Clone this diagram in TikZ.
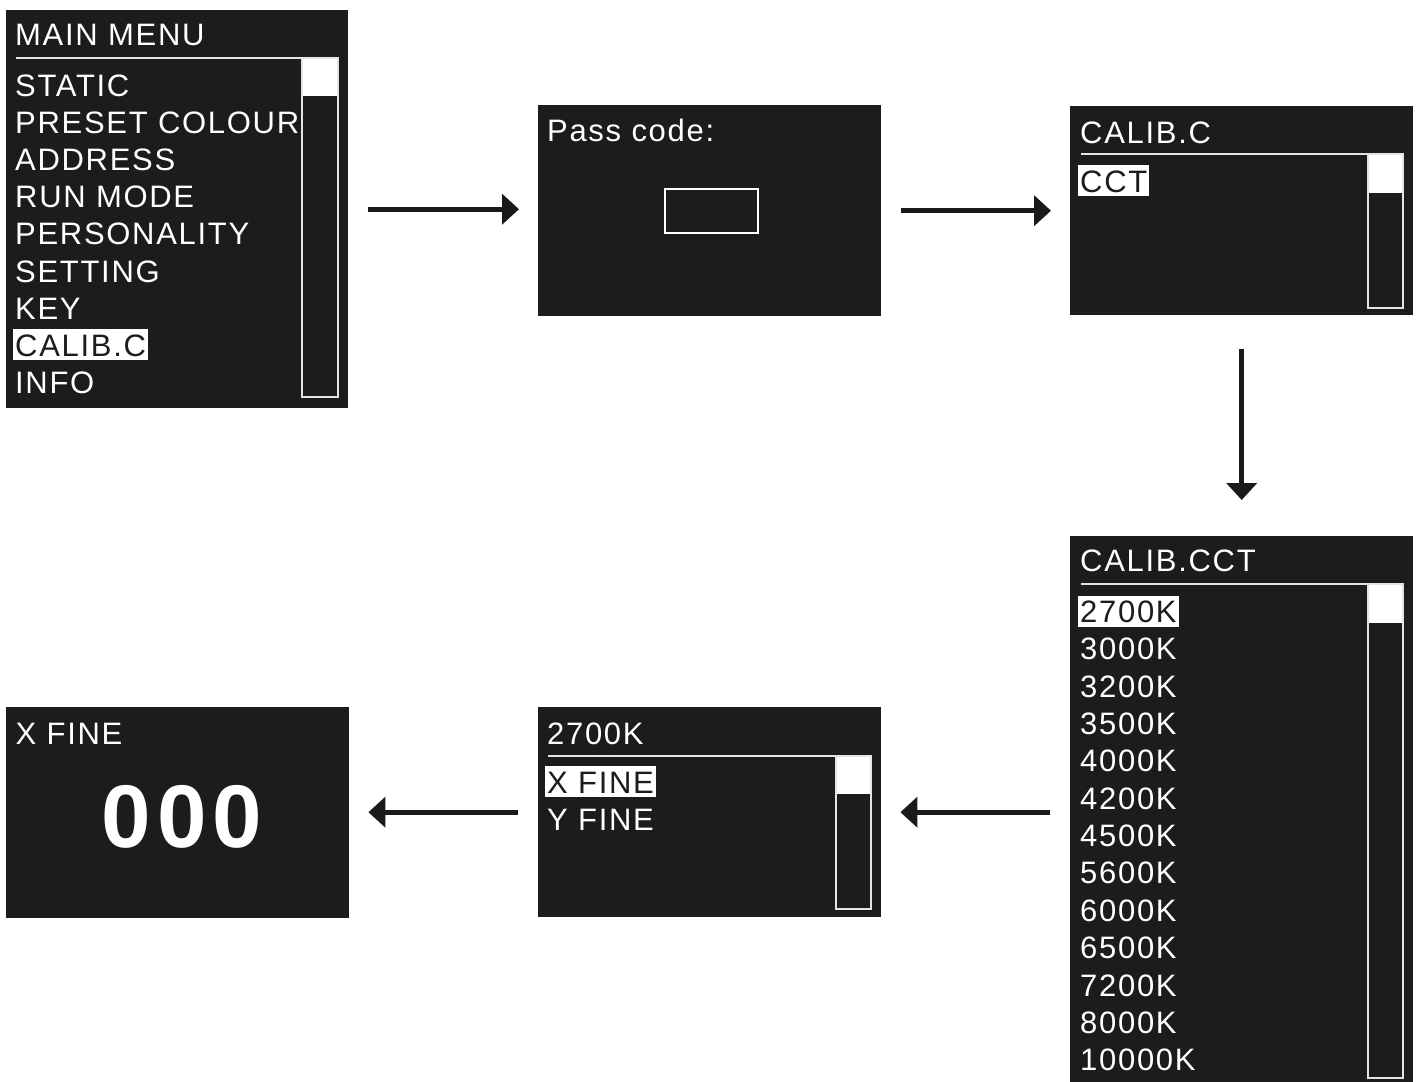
\documentclass[tikz,border=0pt]{standalone}
\usepackage{fontspec}
\setmainfont{Liberation Sans}[LetterSpace=5.5]
\newfontfamily\numfont{Liberation Sans}[LetterSpace=7]
\usetikzlibrary{arrows.meta,calc,positioning}
\definecolor{lcd}{RGB}{28,28,28}
\definecolor{ink}{RGB}{26,26,26}
\definecolor{rule}{RGB}{228,228,228}

\begin{document}
\begin{tikzpicture}[x=1pt,y=-1pt]
  \tikzset{
    screen/.style={fill=lcd,inner sep=0pt,anchor=north west},
    txt/.style={text=white,font=\fontsize{31}{37}\selectfont,anchor=base west,
                inner xsep=2pt,inner ysep=0pt,text height=27pt,text depth=4pt},
    sel/.style={txt,fill=white,text=lcd},
    bar/.style={draw=rule,line width=1.6pt},
    flow/.style={draw=ink,line width=5pt,-{Triangle[length=17pt,width=30pt]},
                 shorten <=20pt,shorten >=19pt}
  }
  \useasboundingbox (0,0) rectangle (1417,1082);

  % main menu
  \node[screen,minimum width=342pt,minimum height=398pt] (menu) at (6,10) {};
  \node[txt] (menutitle) at (13,45) {MAIN MENU};
  \draw[bar] (16,58) -- (338,58);
  \fill[white] (302,58) rectangle (338,96);
  \draw[bar] (302,58) rectangle (338,397);
  \foreach \t/\s [count=\i from 0] in {STATIC/txt,PRESET COLOUR/txt,ADDRESS/txt,
      RUN MODE/txt,PERSONALITY/txt,SETTING/txt,KEY/txt,CALIB.C/sel,INFO/txt}
    \node[\s] (m\i) at (13,{96+37.2*\i}) {\t};

  % pass code
  \node[screen,minimum width=343pt,minimum height=211pt] (pass) at (538,105) {};
  \node[txt] (passlbl) at (545,141) {Pass code:};
  \node[draw=white,line width=1.6pt,minimum width=93pt,minimum height=44pt,
        inner sep=0pt] (code) at ($(pass.center)+(2,0)$) {};

  % calib.c
  \node[screen,minimum width=343pt,minimum height=209pt] (calib) at (1070,106) {};
  \node[txt] (calibtitle) at (1078,143) {CALIB.C};
  \draw[bar] (1081,154) -- (1403,154);
  \fill[white] (1368,154) rectangle (1403,193);
  \draw[bar] (1368,154) rectangle (1403,308);
  \node[sel] (cctitem) at (1078,192) {CCT};

  % calib.cct
  \node[screen,minimum width=343pt,minimum height=546pt] (cct) at (1070,536) {};
  \node[txt] (ccttitle) at (1078,571) {CALIB.CCT};
  \draw[bar] (1081,584) -- (1403,584);
  \fill[white] (1368,584) rectangle (1403,623);
  \draw[bar] (1368,584) rectangle (1403,1078);
  \foreach \t/\s [count=\i from 0] in {2700K/sel,3000K/txt,3200K/txt,3500K/txt,
      4000K/txt,4200K/txt,4500K/txt,5600K/txt,6000K/txt,6500K/txt,7200K/txt,
      8000K/txt,10000K/txt}
    \node[\s] (k\i) at (1078,{622.5+37.35*\i}) {\t};

  % 2700K
  \node[screen,minimum width=343pt,minimum height=210pt] (fine) at (538,707) {};
  \node[txt] (finetitle) at (545,744) {2700K};
  \draw[bar] (548,756) -- (871,756);
  \fill[white] (836,756) rectangle (871,794);
  \draw[bar] (836,756) rectangle (871,909);
  \node[sel] (xfine) at (545,793) {X FINE};
  \node[txt] (yfine) at (545,830) {Y FINE};

  % x fine value
  \node[screen,minimum width=343pt,minimum height=211pt] (xval) at (6,707) {};
  \node[txt] (xvaltitle) at (13.5,744) {X FINE};
  \node[text=white,inner sep=0pt,anchor=base,
        font=\fontsize{89}{100}\numfont\bfseries] (num) at (182,847) {000};

  \draw[flow] (menu.east) -- (menu.east -| pass.west);
  \draw[flow] (pass.east) -- (pass.east -| calib.west);
  \draw[flow,shorten <=34pt,shorten >=36pt] (calib.south) -- (cct.north);
  \draw[flow] (cct.west |- fine.east) -- (fine.east);
  \draw[flow] (fine.west) -- (fine.west -| xval.east);
\end{tikzpicture}
\end{document}
